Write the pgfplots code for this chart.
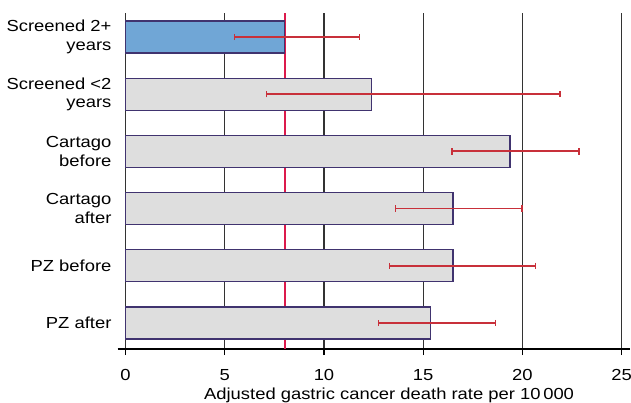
\documentclass[border=0pt]{standalone}
\usepackage{pgfplots}
\usepackage{pgfplotstable}
\pgfplotsset{compat=1.18}
\usepackage{fontspec}
\setmainfont[FakeStretch=1.15]{Liberation Sans}
\definecolor{bargrey}{HTML}{DEDEDE}
\definecolor{baredge}{HTML}{40336F}
\definecolor{barblue}{HTML}{70A6D6}
\definecolor{errred}{HTML}{C8303A}
\definecolor{refred}{HTML}{DC1A4C}
\pgfplotstableread{
x     y  ep    em
15.36 0  3.29  2.62
16.5  1  4.15  3.2
16.5  2  3.47  2.9
19.37 3  3.48  2.92
12.4  4  9.5   5.29
8.0   5  3.78  2.5
}\errdata
\begin{document}
\begin{tikzpicture}
\useasboundingbox (0,0) rectangle (631pt,402pt);
\begin{axis}[
  at={(117.6pt,53pt)}, anchor=south west,
  scale only axis, width=512pt, height=336.3pt,
  xmin=-0.4, xmax=25.4, ymin=-0.455, ymax=5.425,
  axis x line=bottom, axis y line=left,
  x axis line style={-, line width=1.2pt, black},
  y axis line style={draw=none},
  xtick={0,5,...,25}, ytick={0,...,5},
  yticklabels={{PZ after},{PZ before},{Cartago\\after},{Cartago\\before},{Screened <2\\years},{Screened 2+\\years}},
  yticklabel style={align=right, font=\fontsize{16}{18.5}\selectfont, inner sep=0pt},
  ytick style={draw=none},
  xticklabel style={font=\fontsize{16}{19}\selectfont, anchor=base, inner sep=0pt, yshift=-25.3pt},
  xmajorgrids, major grid style={black!80, line width=1.3pt},
  tick align=outside, major tick length=6pt, xtick style={black, line width=1.3pt},
  xlabel={Adjusted gastric cancer death rate per 10\,000},
  xlabel style={font=\fontsize{16}{19}\selectfont, at={(axis cs:13.28,-0.455)}, anchor=base, inner sep=0pt, yshift=-50pt},
  /pgf/number format/assume math mode=true,
  clip=false,
]
\addplot[color=refred, line width=1.6pt, mark=none] coordinates {(8.05,-0.455) (8.05,5.425)};
\addplot[xbar, bar width=32pt, fill=bargrey, draw=baredge, line width=1.2pt] coordinates {(15.36,0) (16.5,1) (16.5,2) (19.37,3) (12.4,4)};
\addplot[xbar, bar width=32pt, fill=barblue, draw=baredge, line width=1.2pt] coordinates {(8.0,5)};
\addplot[draw=none, mark=none, forget plot,
  error bars/.cd, x dir=both, x explicit, error mark=|,
  error bar style={draw=errred, line width=1.8pt},
  error mark options={draw=errred, mark size=3.2pt, line width=1.6pt}]
  table[x=x, y=y, x error plus=ep, x error minus=em] {\errdata};
\end{axis}
\end{tikzpicture}
\end{document}
